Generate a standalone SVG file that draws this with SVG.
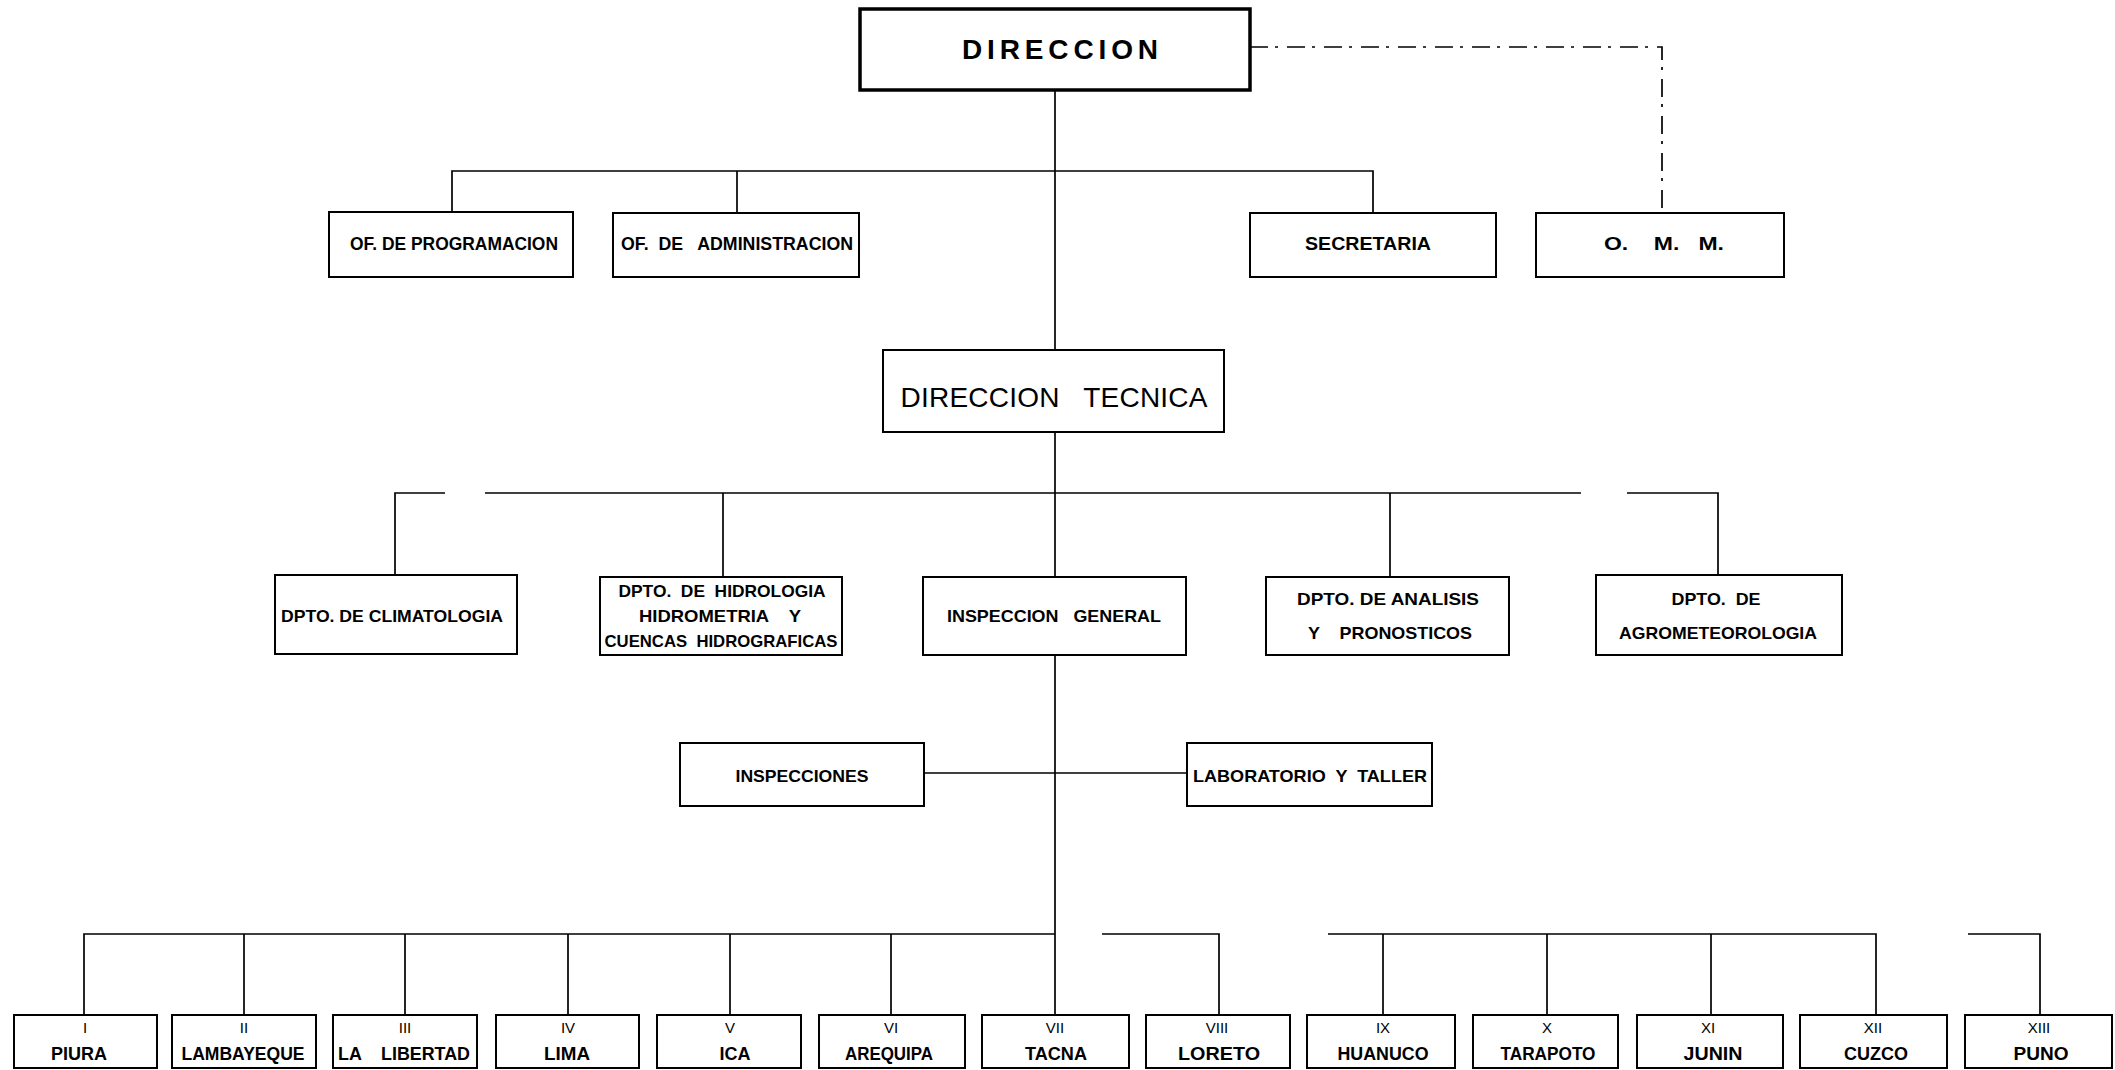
<svg xmlns="http://www.w3.org/2000/svg" width="2115" height="1070" viewBox="0 0 2115 1070">
<style>
.box{fill:#fff;stroke:#000;stroke-width:2}
.thick{stroke-width:3.5}
.ln{stroke:#000;stroke-width:1.7;fill:none}
.dd{stroke-dasharray:18 7 3 9}
text{font-family:"Liberation Sans",Arial,sans-serif;font-weight:bold;fill:#000;text-anchor:middle;white-space:pre}
.big{font-size:28px}
.tech{font-size:28px;font-weight:normal}
.m{font-size:18px}
.s{font-size:17px}
.n{font-size:15px;font-weight:normal}
</style>
<rect width="2115" height="1070" fill="#fff"/>
<g id="connectors">
<path class="ln dd" d="M1250,47 H1662 V213"/>
<path class="ln" d="M1055,90 V350"/>
<path class="ln" d="M452,212 V171 H1373 V213"/>
<path class="ln" d="M737,171 V213"/>
<path class="ln" d="M1055,432 V577"/>
<path class="ln" d="M395,575 V493 H445"/>
<path class="ln" d="M485,493 H1581"/>
<path class="ln" d="M1627,493 H1718 V575"/>
<path class="ln" d="M723,493 V577"/>
<path class="ln" d="M1390,493 V577"/>
<path class="ln" d="M1055,655 V1015"/>
<path class="ln" d="M924,773 H1187"/>
<path class="ln" d="M84,1015 V934 H1055"/>
<path class="ln" d="M244,934 V1015 M405,934 V1015 M568,934 V1015 M730,934 V1015 M891,934 V1015"/>
<path class="ln" d="M1102,934 H1219 V1015"/>
<path class="ln" d="M1328,934 H1876 V1015 M1383,934 V1015 M1547,934 V1015 M1711,934 V1015"/>
<path class="ln" d="M1968,934 H2040 V1015"/>
</g>
<g id="direccion"><rect class="box thick" x="860" y="9" width="390" height="81"/><text class="big" x="1060" y="59" textLength="196" lengthAdjust="spacing">DIRECCION</text></g>
<g id="of-programacion"><rect class="box" x="329" y="212" width="244" height="65"/><text class="m" x="454" y="250" textLength="208" lengthAdjust="spacingAndGlyphs">OF. DE PROGRAMACION</text></g>
<g id="of-administracion"><rect class="box" x="613" y="213" width="246" height="64"/><text class="m" x="737" y="250" textLength="232" lengthAdjust="spacingAndGlyphs">OF.  DE   ADMINISTRACION</text></g>
<g id="secretaria"><rect class="box" x="1250" y="213" width="246" height="64"/><text class="m" x="1368" y="250" textLength="126" lengthAdjust="spacingAndGlyphs">SECRETARIA</text></g>
<g id="omm"><rect class="box" x="1536" y="213" width="248" height="64"/><text class="m" x="1664" y="250" textLength="120" lengthAdjust="spacingAndGlyphs">O.    M.   M.</text></g>
<g id="direccion-tecnica"><rect class="box" x="883" y="350" width="341" height="82"/><text class="tech" x="1054" y="407" textLength="307" lengthAdjust="spacing">DIRECCION   TECNICA</text></g>
<g id="climatologia"><rect class="box" x="275" y="575" width="242" height="79"/><text class="s" x="392" y="622" textLength="222" lengthAdjust="spacingAndGlyphs">DPTO. DE CLIMATOLOGIA</text></g>
<g id="hidrologia"><rect class="box" x="600" y="577" width="242" height="78"/>
<text class="s" x="722" y="597" textLength="207" lengthAdjust="spacingAndGlyphs">DPTO.  DE  HIDROLOGIA</text>
<text class="s" x="720" y="622" textLength="162" lengthAdjust="spacingAndGlyphs">HIDROMETRIA    Y</text>
<text class="s" x="721" y="647" textLength="233" lengthAdjust="spacingAndGlyphs">CUENCAS  HIDROGRAFICAS</text></g>
<g id="inspeccion-general"><rect class="box" x="923" y="577" width="263" height="78"/><text class="s" x="1054" y="622" textLength="214" lengthAdjust="spacingAndGlyphs">INSPECCION   GENERAL</text></g>
<g id="analisis"><rect class="box" x="1266" y="577" width="243" height="78"/>
<text class="s" x="1388" y="605" textLength="182" lengthAdjust="spacingAndGlyphs">DPTO. DE ANALISIS</text>
<text class="s" x="1390" y="639" textLength="164" lengthAdjust="spacingAndGlyphs">Y    PRONOSTICOS</text></g>
<g id="agrometeorologia"><rect class="box" x="1596" y="575" width="246" height="80"/>
<text class="s" x="1716" y="605" textLength="89" lengthAdjust="spacingAndGlyphs">DPTO.  DE</text>
<text class="s" x="1718" y="639" textLength="198" lengthAdjust="spacingAndGlyphs">AGROMETEOROLOGIA</text></g>
<g id="inspecciones"><rect class="box" x="680" y="743" width="244" height="63"/><text class="s" x="802" y="782" textLength="133" lengthAdjust="spacingAndGlyphs">INSPECCIONES</text></g>
<g id="laboratorio"><rect class="box" x="1187" y="743" width="245" height="63"/><text class="s" x="1310" y="782" textLength="234" lengthAdjust="spacingAndGlyphs">LABORATORIO  Y  TALLER</text></g>
<g id="r1"><rect class="box" x="14" y="1015" width="143" height="53"/><text class="n" x="85" y="1033">I</text><text class="m" x="79" y="1060" textLength="56" lengthAdjust="spacingAndGlyphs">PIURA</text></g>
<g id="r2"><rect class="box" x="172" y="1015" width="144" height="53"/><text class="n" x="244" y="1033">II</text><text class="m" x="243" y="1060" textLength="123" lengthAdjust="spacingAndGlyphs">LAMBAYEQUE</text></g>
<g id="r3"><rect class="box" x="333" y="1015" width="144" height="53"/><text class="n" x="405" y="1033">III</text><text class="m" x="404" y="1060" textLength="132" lengthAdjust="spacingAndGlyphs">LA    LIBERTAD</text></g>
<g id="r4"><rect class="box" x="496" y="1015" width="143" height="53"/><text class="n" x="568" y="1033">IV</text><text class="m" x="567" y="1060" textLength="46" lengthAdjust="spacingAndGlyphs">LIMA</text></g>
<g id="r5"><rect class="box" x="657" y="1015" width="144" height="53"/><text class="n" x="730" y="1033">V</text><text class="m" x="735" y="1060" textLength="31" lengthAdjust="spacingAndGlyphs">ICA</text></g>
<g id="r6"><rect class="box" x="819" y="1015" width="146" height="53"/><text class="n" x="891" y="1033">VI</text><text class="m" x="889" y="1060" textLength="88" lengthAdjust="spacingAndGlyphs">AREQUIPA</text></g>
<g id="r7"><rect class="box" x="982" y="1015" width="147" height="53"/><text class="n" x="1055" y="1033">VII</text><text class="m" x="1056" y="1060" textLength="62" lengthAdjust="spacingAndGlyphs">TACNA</text></g>
<g id="r8"><rect class="box" x="1146" y="1015" width="144" height="53"/><text class="n" x="1217" y="1033">VIII</text><text class="m" x="1219" y="1060" textLength="82" lengthAdjust="spacingAndGlyphs">LORETO</text></g>
<g id="r9"><rect class="box" x="1307" y="1015" width="148" height="53"/><text class="n" x="1383" y="1033">IX</text><text class="m" x="1383" y="1060" textLength="91" lengthAdjust="spacingAndGlyphs">HUANUCO</text></g>
<g id="r10"><rect class="box" x="1473" y="1015" width="145" height="53"/><text class="n" x="1547" y="1033">X</text><text class="m" x="1548" y="1060" textLength="95" lengthAdjust="spacingAndGlyphs">TARAPOTO</text></g>
<g id="r11"><rect class="box" x="1637" y="1015" width="146" height="53"/><text class="n" x="1708" y="1033">XI</text><text class="m" x="1713" y="1060" textLength="59" lengthAdjust="spacingAndGlyphs">JUNIN</text></g>
<g id="r12"><rect class="box" x="1800" y="1015" width="147" height="53"/><text class="n" x="1873" y="1033">XII</text><text class="m" x="1876" y="1060" textLength="64" lengthAdjust="spacingAndGlyphs">CUZCO</text></g>
<g id="r13"><rect class="box" x="1965" y="1015" width="147" height="53"/><text class="n" x="2039" y="1033">XIII</text><text class="m" x="2041" y="1060" textLength="55" lengthAdjust="spacingAndGlyphs">PUNO</text></g>
</svg>
